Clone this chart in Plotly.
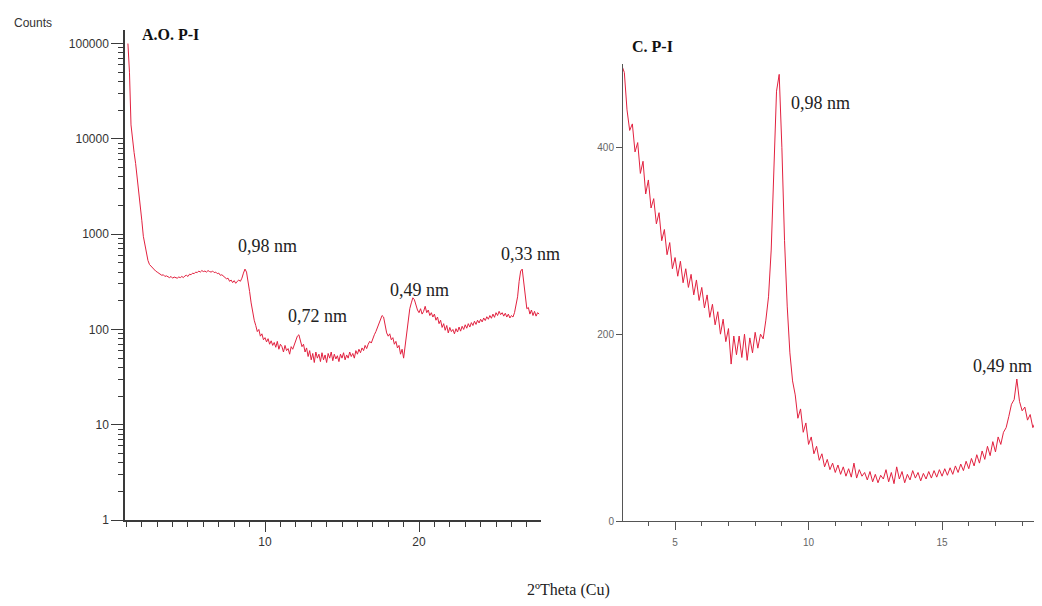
"""Two XRD patterns side by side: A.O. P-I (log counts) and C. P-I (linear counts)."""

from __future__ import annotations

import plotly.graph_objects as go

# --- data ---------------------------------------------------------------------
# A.O. P-I, 2theta from 1.1 deg in 0.1 deg steps, counts (log axis)
ao_start = 1.1
ao_step = 0.1
ao_counts = [
    100000, 50000, 14000, 9500, 7200, 5500, 4000, 3000, 2100, 1400,
    950, 760, 620, 530, 480, 460, 440, 430, 410, 400,
    390, 385, 370, 375, 360, 365, 355, 350, 360, 345,
    355, 350, 345, 355, 350, 360, 350, 365, 370, 360,
    380, 375, 390, 385, 400, 395, 410, 400, 415, 405,
    410, 400, 415, 405, 400, 410, 395, 400, 385, 390,
    370, 375, 360, 350, 340, 345, 320, 330, 310, 325,
    305, 320, 330, 320, 345, 390, 430, 400, 330, 250,
    190, 150, 125, 110, 95, 100, 85, 90, 78, 82,
    74, 80, 70, 76, 68, 73, 65, 75, 62, 70,
    66, 58, 68, 60, 63, 55, 66, 62, 70, 78,
    85, 88, 76, 66, 70, 58, 64, 52, 60, 48,
    56, 45, 58, 50, 55, 46, 57, 48, 54, 45,
    56, 50, 58, 47, 55, 49, 53, 46, 55, 50,
    57, 48, 54, 50, 58, 52, 56, 50, 60, 55,
    62, 57, 64, 60, 68, 63, 70, 75, 72, 82,
    88, 95, 105, 118, 130, 140, 135, 110, 92, 85,
    90, 78, 82, 70, 75, 64, 68, 55, 62, 50,
    70, 95, 130, 165, 190, 215, 205, 180, 160, 150,
    165, 145, 155, 175, 150, 160, 140, 150, 135, 145,
    125, 135, 115, 125, 105, 115, 98, 110, 92, 105,
    95, 100, 90, 102, 94, 106, 96, 108, 100, 112,
    103, 115, 106, 118, 110, 122, 113, 125, 117, 128,
    120, 132, 124, 136, 128, 140, 131, 145, 134, 150,
    140, 155, 143, 150, 138, 148, 135, 145, 132, 140,
    135, 150, 190, 220, 320, 410, 430, 300, 200, 165,
    170, 145, 160, 140, 155, 138, 150, 145,
]

# C. P-I, 2theta from 3.0 deg in 0.1 deg steps, counts (linear axis)
c_start = 3.0
c_step = 0.1
c_counts = [
    488, 480, 440, 418, 425, 395, 405, 372, 385, 350,
    365, 335, 345, 318, 330, 300, 312, 285, 298, 270,
    282, 262, 278, 255, 270, 250, 264, 242, 258, 236,
    250, 228, 242, 218, 232, 210, 224, 200, 216, 192,
    206, 168, 198, 178, 198, 175, 200, 172, 196, 180,
    202, 185, 200, 195, 215, 240, 290, 380, 460, 478,
    400, 300, 230, 180, 150, 135, 110, 120, 95, 105,
    82, 90, 72, 80, 65, 72, 58, 66, 55, 62,
    52, 60, 50, 58, 48, 56, 47, 62, 46, 55,
    48, 52, 44, 53, 42, 50, 41, 49, 45, 55,
    42, 52, 40, 58, 45, 53, 41, 50, 44, 54,
    46, 52, 43, 51, 45, 53, 46, 54, 47, 55,
    48, 56, 49, 57, 50, 59, 52, 61, 54, 64,
    56, 67, 59, 71, 62, 75, 66, 80, 70, 85,
    74, 90, 82, 95, 100, 112, 125, 130, 152, 128,
    118, 122, 108, 114, 100, 106, 94, 100, 88, 95,
]

log_tick_values = [1, 10, 100, 1000, 10000, 100000]
log_tick_labels = ["1", "10", "100", "1000", "10000", "100000"]
left_x_ticks = [10, 20]
right_x_ticks = [5, 10, 15]
right_y_ticks = [0, 200, 400]

LINE_COLOR = "#e2213f"
AXIS_COLOR = "#3a3a3a"
SERIF = "Liberation Serif"
SANS = "Liberation Sans"
WIDTH, HEIGHT = 1042, 606

# the page shows the figure a little offset / squeezed, compensate for it
SHIFT_X, SHIFT_Y, SCALE_Y = 7.0, 6.3, 0.9916


def px_x(p: float) -> float:
    """Screen x pixel -> paper fraction."""
    return (p - SHIFT_X) / WIDTH


def px_y(p: float) -> float:
    """Screen y pixel (from top) -> paper fraction."""
    return 1 - (p - SHIFT_Y) / SCALE_Y / HEIGHT


def build_figure() -> go.Figure:
    """Build the two-panel diffractogram figure."""
    fig = go.Figure()
    fig.add_trace(
        go.Scatter(
            x0=ao_start, dx=ao_step, y=ao_counts,
            mode="lines", line={"color": LINE_COLOR, "width": 1},
            xaxis="x", yaxis="y", showlegend=False,
        )
    )
    fig.add_trace(
        go.Scatter(
            x0=c_start, dx=c_step, y=c_counts,
            mode="lines", line={"color": LINE_COLOR, "width": 1},
            xaxis="x2", yaxis="y2", showlegend=False,
        )
    )

    fig.update_layout(
        width=WIDTH, height=HEIGHT,
        margin={"l": 0, "r": 0, "t": 0, "b": 0},
        paper_bgcolor="white", plot_bgcolor="white",
        showlegend=False,
        xaxis={
            "domain": [px_x(124), px_x(540)],
            "range": [0.91, 27.92],
            "anchor": "y",
            "showgrid": False, "zeroline": False,
            "showline": True, "linecolor": AXIS_COLOR, "linewidth": 1.5,
            "tickmode": "array", "tickvals": left_x_ticks,
            "ticks": "outside", "ticklen": 10, "tickcolor": AXIS_COLOR,
            "tickfont": {"family": SANS, "size": 12, "color": "#333"},
            "minor": {"dtick": 1, "ticks": "outside", "ticklen": 5,
                      "tickcolor": AXIS_COLOR, "showgrid": False},
        },
        yaxis={
            "domain": [px_y(520), px_y(28)],
            "type": "log",
            "range": [0, 5.146],
            "anchor": "x",
            "showgrid": False, "zeroline": False,
            "showline": True, "linecolor": AXIS_COLOR, "linewidth": 1.5,
            "tickmode": "array", "tickvals": log_tick_values,
            "ticktext": log_tick_labels,
            "ticks": "outside", "ticklen": 12, "tickcolor": AXIS_COLOR,
            "tickfont": {"family": SANS, "size": 12, "color": "#333"},
            "minor": {"dtick": "D1", "ticks": "outside", "ticklen": 5,
                      "tickcolor": AXIS_COLOR, "showgrid": False},
        },
        xaxis2={
            "domain": [px_x(622), 1.0],
            "range": [3.05, 18.78 + SHIFT_X / 26.7],
            "anchor": "y2",
            "showgrid": False, "zeroline": False,
            "showline": True, "linecolor": "#555", "linewidth": 1,
            "tickmode": "array", "tickvals": right_x_ticks,
            "ticks": "outside", "ticklen": 8, "tickcolor": "#555",
            "ticklabelstandoff": 4,
            "tickfont": {"family": SANS, "size": 10, "color": "#666"},
            "minor": {"dtick": 1, "ticks": "outside", "ticklen": 4,
                      "tickcolor": "#555", "showgrid": False},
        },
        yaxis2={
            "domain": [px_y(521), px_y(62)],
            "range": [0, 489.6],
            "anchor": "x2",
            "showgrid": False, "zeroline": False,
            "showline": True, "linecolor": "#555", "linewidth": 1,
            "tickmode": "array", "tickvals": right_y_ticks,
            "ticks": "outside", "ticklen": 6, "tickcolor": "#555",
            "tickfont": {"family": SANS, "size": 10, "color": "#666"},
        },
    )

    peak_font = {"family": SERIF, "size": 18, "color": "#222"}
    title_font = {"family": SERIF, "size": 16, "color": "#111"}
    notes = [
        # left panel (y is log10 of counts)
        {"text": "<b>A.O. P-I</b>", "x": 1.9, "y": 5.094, "xref": "x", "yref": "y",
         "xanchor": "left", "font": title_font},
        {"text": "0,98 nm", "x": 10.13, "y": 2.877, "xref": "x", "yref": "y",
         "font": peak_font},
        {"text": "0,72 nm", "x": 13.38, "y": 2.144, "xref": "x", "yref": "y",
         "font": peak_font},
        {"text": "0,49 nm", "x": 20.0, "y": 2.416, "xref": "x", "yref": "y",
         "font": peak_font},
        {"text": "0,33 nm", "x": 27.27, "y": 2.793, "xref": "x", "yref": "y",
         "font": peak_font},
        # right panel (title sits above the axis range, so paper y)
        {"text": "<b>C. P-I</b>", "x": 4.14, "y": px_y(45), "xref": "x2",
         "yref": "paper", "yanchor": "middle", "font": title_font},
        {"text": "0,98 nm", "x": 10.45, "y": 447, "xref": "x2", "yref": "y2",
         "font": peak_font},
        {"text": "0,49 nm", "x": 18.45, "y": 166, "xref": "x2", "yref": "y2",
         "xanchor": "right", "font": peak_font},
        # shared texts
        {"text": "Counts", "x": px_x(11), "y": px_y(21),
         "xref": "paper", "yref": "paper", "xanchor": "left", "yanchor": "middle",
         "font": {"family": SANS, "size": 12, "color": "#333"}},
        {"text": "2ºTheta (Cu)", "x": px_x(567), "y": px_y(590),
         "xref": "paper", "yref": "paper", "yanchor": "middle",
         "font": {"family": SERIF, "size": 16, "color": "#222"}},
    ]
    for note in notes:
        fig.add_annotation(showarrow=False, **note)
    return fig


if __name__ == "__main__":
    figure = build_figure()
    figure.write_html("out.html")
